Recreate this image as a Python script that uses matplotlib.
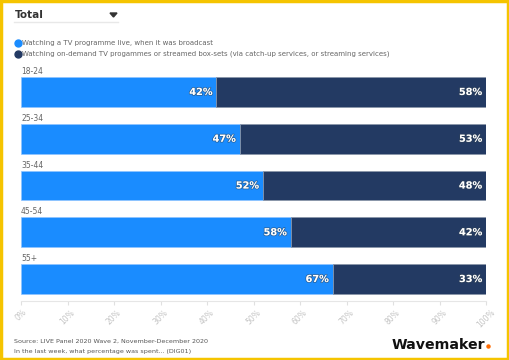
import matplotlib
matplotlib.use("Agg")
import matplotlib.pyplot as plt
from matplotlib.patches import Rectangle, Polygon
import matplotlib.patheffects as pe

categories = ["18-24", "25-34", "35-44", "45-54", "55+"]
live = [42, 47, 52, 58, 67]
on_demand = [58, 53, 48, 42, 33]
tick_labels = ["0%", "10%", "20%", "30%", "40%", "50%", "60%", "70%", "80%", "90%", "100%"]
series_names = ["Watching a TV programme live, when it was broadcast",
                "Watching on-demand TV progammes or streamed box-sets (via catch-up services, or streaming services)"]

C_LIVE = "#1A8CFF"
C_OD = "#233A63"

W, H = 509, 360
fig = plt.figure(figsize=(W / 100, H / 100), dpi=100)
fig.patch.set_facecolor("white")

ax = fig.add_axes([21 / W, (H - 301) / H, (486 - 21) / W, 231 / H])
ypos = list(range(len(categories)))
ax.barh(ypos, live, height=0.64, color=C_LIVE, edgecolor="#8fc4ff", linewidth=0.5)
ax.barh(ypos, on_demand, left=live, height=0.64, color=C_OD, edgecolor="#8a96a8", linewidth=0.5)
ax.set_xlim(0, 100)
ax.set_ylim(4.47, -0.47)
ax.set_yticks([])
ax.set_xticks(range(0, 101, 10))
ax.set_xticklabels(tick_labels, rotation=45, fontsize=5.5, color="#c4c4c4")
ax.tick_params(axis="x", length=3, color="#e0e0e0", pad=2)
for s in ["top", "right", "left"]:
    ax.spines[s].set_visible(False)
ax.spines["bottom"].set_color("#e6e6e6")

eff = [pe.withStroke(linewidth=1.2, foreground="#33445588")]
for i, (a, b) in enumerate(zip(live, on_demand)):
    ax.text(a - 0.8, i, f"{a}%", color="white", fontsize=7, fontweight="bold",
            ha="right", va="center", path_effects=eff)
    ax.text(a + b - 0.8, i, f"{b}%", color="white", fontsize=7, fontweight="bold",
            ha="right", va="center", path_effects=eff)
    ax.text(0, i - 0.34, categories[i], fontsize=5.5, color="#666666", ha="left", va="bottom")

# Header dropdown
fig.text(15 / W, 1 - 15 / H, "Total", fontsize=7.5, fontweight="bold", color="#333333", va="center")
fig.patches.append(Polygon([[110 / W, 1 - 13 / H], [117 / W, 1 - 13 / H], [113.5 / W, 1 - 17 / H]],
                           closed=True, transform=fig.transFigure, color="#333333"))
fig.lines.append(plt.Line2D([14 / W, 118 / W], [1 - 22 / H, 1 - 22 / H], transform=fig.transFigure,
                            color="#e8e8e8", linewidth=1))

# Legend
for k, (name, col) in enumerate(zip(series_names, [C_LIVE, C_OD])):
    y = 1 - (43 + k * 11) / H
    fig.lines.append(plt.Line2D([17.5 / W], [y], marker="o", markersize=5, color=col,
                                transform=fig.transFigure, linestyle="none"))
    fig.text(22.5 / W, y, name, fontsize=5.0, color="#666666", va="center")

# Footer
fig.text(14 / W, 1 - 341 / H, "Source: LIVE Panel 2020 Wave 2, November-December 2020",
         fontsize=4.6, color="#555555", va="center")
fig.text(14 / W, 1 - 351 / H, "In the last week, what percentage was spent... (DIG01)",
         fontsize=4.6, color="#555555", va="center")
fig.text(485 / W, 1 - 345 / H, "Wavemaker", fontsize=10.2, fontweight="bold", color="#111111",
         va="center", ha="right")
fig.lines.append(plt.Line2D([488 / W], [1 - 346 / H], marker="o", markersize=2.2, color="#FF6B00",
                            transform=fig.transFigure, linestyle="none"))

# Yellow frame
fig.patches.append(Rectangle((0.002, 0.003), 0.996, 0.994, transform=fig.transFigure,
                             fill=False, edgecolor="#F5C400", linewidth=2.5))

fig.savefig("out.png", dpi=100)
